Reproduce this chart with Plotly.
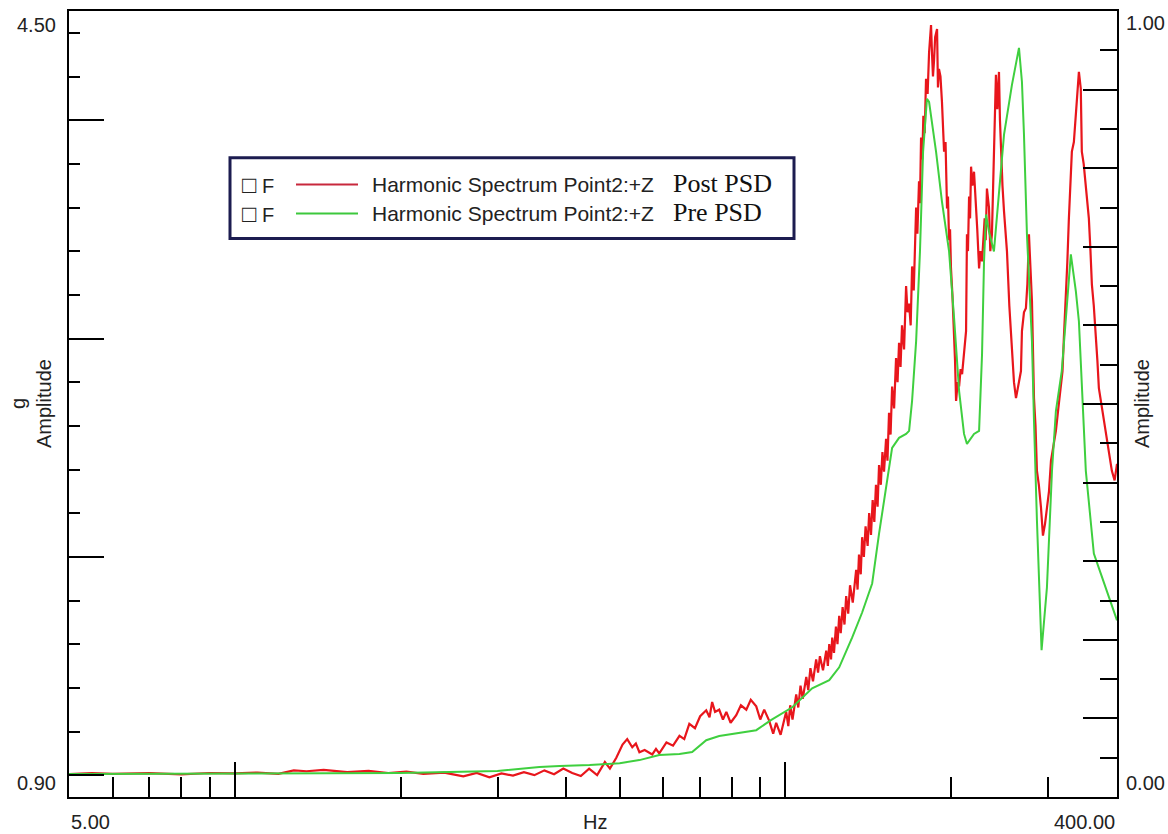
import math
import plotly.graph_objects as go

# ---------------- data ----------------
# Post PSD (red) -- flat part and low hump
post_freq_low = [5.0, 5.5, 6.0, 7.0, 8.0, 9.0, 10.0, 11.0, 12.0, 12.8, 13.5, 14.5, 16.0, 17.5,
                 19.0, 20.5, 22.0, 24.0, 26.0, 27.5, 29.0, 30.5, 32.0, 33.5, 35.0, 36.5, 38.0,
                 39.5, 41.0, 42.5, 44.0, 45.5, 47.0, 48.0, 49.3, 50.6, 51.6, 52.7, 53.5, 54.3,
                 55.5, 57.3, 58.2, 59.0, 60.8, 62.5, 64.2, 65.5, 66.9, 68.5, 70.0, 71.8, 72.8,
                 73.6, 74.5, 75.8, 77.0, 78.1, 79.5, 81.4, 83.0, 84.9, 86.5, 88.5, 90.0, 91.5,
                 93.4, 95.0, 96.2, 98.0]
post_amp_low = [1.005, 1.010, 1.006, 1.009, 1.004, 1.010, 1.008, 1.012, 1.006, 1.022, 1.018,
                1.024, 1.014, 1.020, 1.010, 1.016, 1.006, 1.012, 0.995, 1.010, 0.990, 1.008,
                0.998, 1.014, 1.000, 1.022, 1.004, 1.030, 1.010, 0.996, 1.030, 1.000, 1.060,
                1.030, 1.080, 1.140, 1.165, 1.128, 1.145, 1.105, 1.115, 1.095, 1.120, 1.100,
                1.150, 1.135, 1.180, 1.165, 1.235, 1.215, 1.270, 1.297, 1.265, 1.335, 1.290,
                1.300, 1.255, 1.290, 1.240, 1.275, 1.320, 1.300, 1.345, 1.315, 1.255, 1.300,
                1.250, 1.190, 1.240, 1.185]
# Post PSD -- steep rise
post_freq_rise = [100.3, 101.2, 102.0, 103.0, 104.6, 105.5, 106.5, 107.5, 109.1, 110.0, 111.0,
                  112.2, 113.7, 114.6, 115.5, 117.0, 118.6, 119.4, 120.1, 121.0, 121.6, 122.5,
                  123.5, 124.3, 125.2, 126.0, 127.0, 128.0, 128.9, 130.0, 131.0, 132.5, 134.4,
                  135.2, 136.0, 137.0, 137.8, 138.8, 139.8, 141.0, 141.9, 143.0, 144.0, 145.0,
                  146.0, 147.0, 147.9, 149.0, 150.0, 151.0, 152.3, 153.2, 154.2, 155.2, 156.2,
                  157.5, 158.8, 159.8, 160.8, 161.8, 162.8, 164.2, 165.6, 166.6, 167.7, 168.8,
                  169.8, 171.0, 172.7, 173.6, 174.8, 175.5, 176.3, 177.2, 178.0, 179.0]
post_amp_rise = [1.290, 1.225, 1.320, 1.255, 1.370, 1.310, 1.410, 1.350, 1.450, 1.390, 1.490,
                 1.430, 1.530, 1.470, 1.545, 1.480, 1.570, 1.500, 1.600, 1.530, 1.630, 1.560,
                 1.680, 1.600, 1.730, 1.650, 1.770, 1.690, 1.820, 1.740, 1.870, 1.790, 1.940,
                 1.850, 2.010, 1.920, 2.090, 2.000, 2.140, 2.050, 2.200, 2.100, 2.260, 2.160,
                 2.330, 2.230, 2.420, 2.330, 2.480, 2.390, 2.540, 2.440, 2.660, 2.560, 2.780,
                 2.680, 2.910, 2.800, 2.980, 2.870, 3.060, 2.950, 3.240, 3.120, 3.160, 3.060,
                 3.330, 3.220, 3.600, 3.480, 3.720, 3.620, 3.920, 3.820, 4.020, 3.940]
# Post PSD -- resonance peaks
post_freq_peak = [180.0, 181.2, 182.3, 183.8, 184.6, 185.3, 186.1, 187.0, 188.5, 189.2, 190.0,
                  191.2, 192.4, 194.1, 195.3, 196.5, 197.3, 198.2, 199.0, 199.8, 201.0, 202.4,
                  203.2, 204.1, 205.5, 206.7, 208.0, 209.3, 211.0, 212.8, 213.6, 214.5, 215.5,
                  216.4, 217.3, 218.5, 220.0, 221.8, 223.0, 224.7, 226.0, 227.5, 229.0, 230.0,
                  231.0, 232.2, 234.2, 235.5, 237.1, 239.1, 240.0, 241.1, 242.5, 244.2, 245.2,
                  246.3, 247.8, 249.4, 251.0, 252.5, 255.0, 257.8, 260.0, 262.2, 265.5, 267.7,
                  268.8, 271.1, 273.3, 275.0, 276.8, 278.5, 280.3, 282.7, 284.5, 286.2, 288.5,
                  291.1, 293.5, 296.0, 298.4, 301.0, 303.5, 306.5, 309.8, 313.0, 316.4, 318.5,
                  320.3, 323.0, 325.0, 327.1, 329.0, 331.2, 334.0, 336.8, 339.0, 341.1, 343.8,
                  345.3, 348.0, 351.1, 355.6, 358.0, 360.1, 363.0, 366.2, 368.5, 370.8, 376.0,
                  379.0, 381.8, 386.6, 389.0, 391.5, 396.0, 400.0]
post_amp_peak = [4.190, 4.120, 4.310, 4.436, 4.300, 4.200, 4.270, 4.380, 4.418, 4.150, 4.235,
                 4.200, 4.084, 3.856, 3.900, 3.595, 3.650, 3.450, 3.500, 3.321, 3.200, 3.034,
                 2.900, 2.714, 2.800, 2.780, 2.860, 2.837, 2.950, 3.034, 3.477, 3.400, 3.650,
                 3.550, 3.787, 3.700, 3.764, 3.627, 3.500, 3.321, 3.400, 3.353, 3.500, 3.550,
                 3.450, 3.687, 3.600, 3.400, 3.477, 3.800, 3.950, 4.208, 4.050, 4.221, 4.000,
                 3.856, 3.700, 3.582, 3.480, 3.399, 3.150, 2.928, 2.800, 2.727, 2.800, 2.851,
                 3.034, 3.120, 3.139, 3.250, 3.477, 3.300, 3.171, 2.727, 2.600, 2.394, 2.330,
                 2.225, 2.097, 2.150, 2.225, 2.300, 2.440, 2.500, 2.577, 2.680, 2.773, 2.850,
                 3.002, 3.171, 3.350, 3.550, 3.700, 3.856, 3.900, 4.039, 4.100, 4.221, 4.144,
                 3.856, 3.800, 3.705, 3.550, 3.400, 3.248, 3.150, 3.020, 2.900, 2.773, 2.680,
                 2.630, 2.577, 2.480, 2.440, 2.394, 2.350, 2.426]
post_freq = post_freq_low + post_freq_rise + post_freq_peak
post_amp = post_amp_low + post_amp_rise + post_amp_peak

# Pre PSD (green)
pre_freq = [5.0, 10.0, 20.0, 30.0, 35.75, 38.9, 44.1, 50.0, 54.3, 59.0, 64.2, 67.7, 71.8, 75.8,
            82.4, 88.5, 94.1, 102.9, 111.8, 120.1, 125.2, 132.2, 137.8, 143.7, 147.9, 152.3,
            156.2, 160.8, 165.6, 167.7, 169.8, 172.7, 175.5, 177.8, 180.7, 182.3, 187.7, 192.4,
            198.2, 202.4, 206.7, 211.0, 213.6, 220.0, 224.7, 227.5, 229.4, 231.3, 234.2, 239.1,
            244.2, 249.4, 257.8, 265.5, 268.8, 271.1, 274.5, 280.3, 282.7, 286.2, 291.8, 298.4,
            304.8, 309.8, 317.5, 323.0, 329.8, 336.8, 341.1, 351.1, 363.1, 373.8, 386.6, 400.0]
pre_amp = [1.005, 1.008, 1.010, 1.019, 1.037, 1.042, 1.046, 1.055, 1.069, 1.092, 1.097, 1.106,
           1.160, 1.179, 1.192, 1.206, 1.252, 1.311, 1.398, 1.435, 1.494, 1.631, 1.745, 1.878,
           2.106, 2.316, 2.499, 2.545, 2.563, 2.577, 2.714, 2.988, 3.399, 3.856, 4.098, 4.084,
           3.856, 3.627, 3.399, 3.093, 2.759, 2.563, 2.517, 2.563, 2.577, 2.928, 3.353, 3.568,
           3.490, 3.399, 3.673, 3.934, 4.162, 4.331, 4.176, 3.934, 3.477, 2.988, 2.622, 2.166,
           1.572, 1.859, 2.394, 2.668, 2.851, 3.079, 3.385, 3.216, 3.079, 2.394, 2.015, 1.923,
           1.814, 1.709]

# axis ranges and ticks
x_range = [5.0, 400.0]
x_major = [10, 100]
x_minor = [6, 7, 8, 9, 20, 30, 40, 50, 60, 70, 80, 90, 200, 300]
yl_range = [0.9, 4.5]
yl_major = [1, 2, 3, 4]
yl_minor = [1.2, 1.4, 1.6, 1.8, 2.2, 2.4, 2.6, 2.8, 3.2, 3.4, 3.6, 3.8, 4.2, 4.4]
yr_range = [0.0, 1.0]
yr_major = [0.1, 0.2, 0.3, 0.4, 0.5, 0.6, 0.7, 0.8, 0.9]
yr_minor = [0.05, 0.15, 0.25, 0.35, 0.45, 0.55, 0.65, 0.75, 0.85, 0.95]

x_end_labels = ["5.00", "400.00"]
yl_end_labels = ["0.90", "4.50"]
yr_end_labels = ["0.00", "1.00"]

legend_rows = [
    ("Harmonic Spectrum Point2:+Z", "Post PSD", "#c8283c"),
    ("Harmonic Spectrum Point2:+Z", "Pre PSD", "#3cc83c"),
]

RED = "#e8161c"
GREEN = "#3fcf3f"
FONT = "Liberation Sans, Arial, sans-serif"
SERIF = "Liberation Serif, Times New Roman, serif"
TXT = "#222222"

fig = go.Figure()
fig.add_trace(go.Scatter(x=post_freq, y=post_amp, mode="lines",
                         line=dict(color=RED, width=2.2), name="Post PSD",
                         hoverinfo="skip"))
fig.add_trace(go.Scatter(x=pre_freq, y=pre_amp, mode="lines",
                         line=dict(color=GREEN, width=2), name="Pre PSD",
                         hoverinfo="skip"))
# invisible trace so the right-hand axis is drawn
fig.add_trace(go.Scatter(x=[x_range[0]], y=[None], yaxis="y2", mode="lines",
                         showlegend=False, hoverinfo="skip"))

# plot area spans page x 69..1117, y 9..797 (body margin removed below)
W, H = 1168, 834
L, T, R, B = 69, 9, 51, 37

def px(xp):
    return (xp - 69) / 1048

def py(yp):
    return (797 - yp) / 788

fig.update_layout(
    width=W, height=H,
    margin=dict(l=L, r=R, t=T, b=B, pad=0),
    paper_bgcolor="white", plot_bgcolor="white",
    showlegend=False,
    font=dict(family=FONT, size=20, color=TXT),
    xaxis=dict(type="log", range=[math.log10(x_range[0]), math.log10(x_range[1])],
               showgrid=False, zeroline=False, showline=True, linecolor="black",
               linewidth=2, mirror=True, ticks="inside", ticklen=35, tickwidth=2,
               tickcolor="black", tickmode="array", tickvals=x_major,
               showticklabels=False,
               minor=dict(ticks="inside", ticklen=20, tickwidth=2, tickcolor="black",
                          tickmode="array", tickvals=x_minor, showgrid=False)),
    yaxis=dict(range=yl_range, showgrid=False, zeroline=False, showline=True,
               linecolor="black", linewidth=2, mirror=True, ticks="inside",
               ticklen=35, tickwidth=2, tickcolor="black", tickmode="array",
               tickvals=yl_major, showticklabels=False,
               minor=dict(ticks="inside", ticklen=11, tickwidth=2, tickcolor="black",
                          tickmode="array", tickvals=yl_minor, showgrid=False)),
    yaxis2=dict(range=yr_range, overlaying="y", side="right", anchor="x",
                showgrid=False, zeroline=False, showline=True, linecolor="black",
                linewidth=2, ticks="inside", ticklen=34, tickwidth=2,
                tickcolor="black", tickmode="array", tickvals=yr_major,
                showticklabels=False,
                minor=dict(ticks="inside", ticklen=17, tickwidth=2, tickcolor="black",
                           tickmode="array", tickvals=yr_minor, showgrid=False)),
)

# axis end labels
fig.add_annotation(text=yl_end_labels[1], xref="paper", x=0, xanchor="right", xshift=-11,
                   yref="y", y=yl_range[1], yshift=-14, showarrow=False)
fig.add_annotation(text=yl_end_labels[0], xref="paper", x=0, xanchor="right", xshift=-11,
                   yref="y", y=yl_range[0], yshift=14, showarrow=False)
fig.add_annotation(text=yr_end_labels[1], xref="paper", x=1, xanchor="left", xshift=7,
                   yref="y2", y=yr_range[1], yshift=-12, showarrow=False)
fig.add_annotation(text=yr_end_labels[0], xref="paper", x=1, xanchor="left", xshift=7,
                   yref="y2", y=yr_range[0], yshift=14, showarrow=False)
fig.add_annotation(text=x_end_labels[0], xref="paper", x=0, xanchor="left",
                   yref="paper", y=0, yanchor="middle", yshift=-25, showarrow=False)
fig.add_annotation(text=x_end_labels[1], xref="paper", x=1, xanchor="right",
                   yref="paper", y=0, yanchor="middle", yshift=-25, showarrow=False)

# axis titles
fig.add_annotation(text="Hz", xref="paper", x=px(595), xanchor="center",
                   yref="paper", y=0, yanchor="middle", yshift=-25, showarrow=False)
fig.add_annotation(text="g<br>Amplitude", xref="paper", x=px(31), xanchor="center",
                   yref="paper", y=0.5, yanchor="middle", textangle=-90,
                   showarrow=False)
fig.add_annotation(text="Amplitude", xref="paper", x=px(1142), xanchor="center",
                   yref="paper", y=0.5, yanchor="middle", textangle=-90,
                   showarrow=False)

# legend box
fig.add_shape(type="rect", xref="paper", yref="paper",
              x0=px(230), x1=px(794), y0=py(237), y1=py(156),
              line=dict(color="#1c1c50", width=3), fillcolor="white", layer="above")
row_y = [183, 212]
for (label, tag, col), yy in zip(legend_rows, row_y):
    fig.add_annotation(text="<span style='font-size:24px'>\u25a1</span> F", xref="paper",
                       x=px(240), xanchor="left", yref="paper", y=py(yy), yanchor="middle",
                       showarrow=False, font=dict(family=FONT, size=20, color=TXT))
    fig.add_shape(type="line", xref="paper", yref="paper", x0=px(296), x1=px(358),
                  y0=py(yy), y1=py(yy), line=dict(color=col, width=2), layer="above")
    fig.add_annotation(text=label, xref="paper", x=px(370), xanchor="left",
                       yref="paper", y=py(yy), yanchor="middle", showarrow=False,
                       font=dict(family=FONT, size=21, color=TXT))
    fig.add_annotation(text=tag, xref="paper", x=px(671), xanchor="left",
                       yref="paper", y=py(yy - 1), yanchor="middle", showarrow=False,
                       font=dict(family=SERIF, size=26, color="#111111"))

fig.write_html("out.html",
               config={"displayModeBar": False},
               post_script="document.body.style.margin='0';"
                           "document.body.style.overflow='hidden';")
